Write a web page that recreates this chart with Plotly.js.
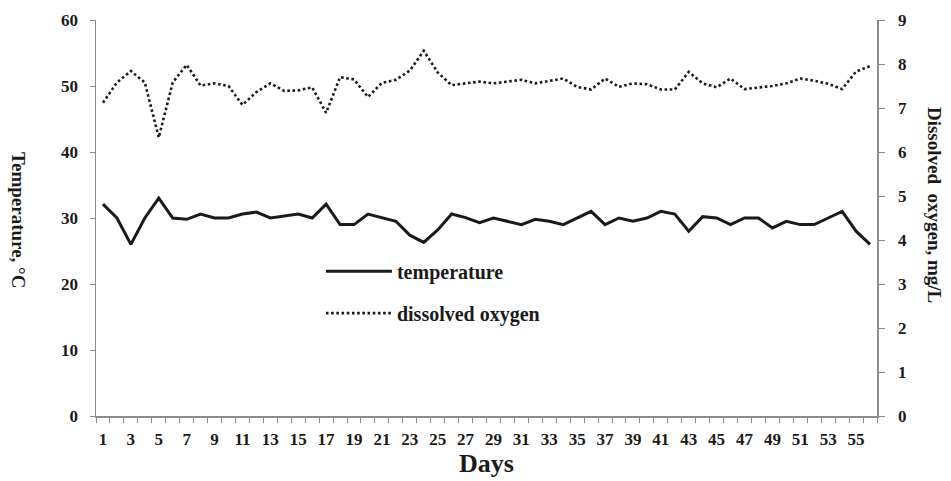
<!DOCTYPE html>
<html>
<head>
<meta charset="utf-8">
<script src="https://cdn.plot.ly/plotly-3.0.1.min.js"></script>
<style>html,body{margin:0;padding:0;background:#fff;}#chart{width:951px;height:481px;}</style>
</head>
<body>
<div id="chart"></div>
<script>
const days = Array.from({length: 56}, (_, i) => i + 1);
const temperature = [32.1, 30.0, 26.0, 30.0, 33.0, 30.0, 29.8, 30.6, 30.0, 30.0,
  30.6, 30.9, 30.0, 30.35, 30.6, 30.0, 32.1, 29.0, 29.0, 30.6,
  30.05, 29.5, 27.4, 26.3, 28.2, 30.6, 30.05, 29.3, 30.0, 29.5,
  29.0, 29.8, 29.5, 29.0, 30.05, 31.0, 29.0, 30.0, 29.5, 30.0,
  31.0, 30.6, 28.0, 30.2, 30.0, 29.0, 30.0, 30.0, 28.5, 29.5,
  29.0, 29.0, 30.0, 31.0, 28.0, 26.0];
const dissolvedOxygen = [7.12, 7.58, 7.84, 7.58, 6.33, 7.58, 7.98, 7.51, 7.56, 7.5,
  7.07, 7.36, 7.56, 7.39, 7.4, 7.47, 6.89, 7.7, 7.65, 7.25,
  7.57, 7.64, 7.85, 8.3, 7.81, 7.52, 7.56, 7.6, 7.56, 7.6,
  7.64, 7.56, 7.62, 7.67, 7.48, 7.42, 7.67, 7.48, 7.56, 7.54,
  7.42, 7.42, 7.82, 7.56, 7.47, 7.67, 7.43, 7.47, 7.5, 7.56,
  7.67, 7.62, 7.55, 7.43, 7.83, 7.95];
const xTickVals = days.filter(d => d % 2 === 1);
const xTickText = xTickVals.map(String);

const font = {family: 'Liberation Serif, Times New Roman, serif', color: '#1a1a1a'};
const axisGray = '#8c8c8c';

const traces = [
  {x: days, y: temperature, name: 'temperature', type: 'scatter', mode: 'lines',
   line: {color: '#1a1a1a', width: 3}, legendgroup: 'a', yaxis: 'y'},
  {x: days, y: dissolvedOxygen, name: 'dissolved oxygen', type: 'scatter', mode: 'lines',
   line: {color: '#1a1a1a', width: 2.6, dash: '2.6px,2.6px'}, legendgroup: 'b', yaxis: 'y2'}
];

const layout = {
  width: 951, height: 481,
  margin: {l: 96, r: 74, t: 20, b: 65},
  paper_bgcolor: '#fff', plot_bgcolor: '#fff',
  font: Object.assign({size: 14}, font),
  showlegend: true,
  legend: {x: 0.288, y: 0.415, xanchor: 'left', yanchor: 'top', traceorder: 'grouped',
    tracegroupgap: 13, bgcolor: 'rgba(0,0,0,0)', itemwidth: 66,
    font: Object.assign({size: 20, weight: 'bold'}, font)},
  xaxis: {range: [0.5, 56.5], showgrid: false, zeroline: false, showline: true,
    linecolor: axisGray, linewidth: 1.5, ticks: '', tickmode: 'array',
    tickvals: xTickVals, ticktext: xTickText, ticklabelstandoff: 7,
    tickfont: Object.assign({size: 17, weight: 'bold'}, font),
    minor: {ticks: 'outside', tick0: 0.5, dtick: 1, ticklen: 5, tickcolor: axisGray, tickwidth: 1, showgrid: false},
    title: {text: 'Days', font: Object.assign({size: 26, weight: 'bold'}, font), standoff: 6}},
  yaxis: {range: [0, 60], dtick: 10, showgrid: false, zeroline: false, showline: true,
    linecolor: axisGray, linewidth: 1.5, ticks: 'outside', ticklen: 5, tickcolor: axisGray,
    ticklabelstandoff: 8,
    tickfont: Object.assign({size: 17, weight: 'bold'}, font)},
  yaxis2: {range: [0, 9], dtick: 1, overlaying: 'y', side: 'right', showgrid: false, zeroline: false,
    showline: true, linecolor: axisGray, linewidth: 1.5, ticks: 'outside', ticklen: 6, tickcolor: axisGray,
    ticklabelstandoff: 10,
    tickfont: Object.assign({size: 17, weight: 'bold'}, font)},
  annotations: [
    {text: 'Temperature, °C', xref: 'paper', yref: 'paper', x: -0.1, y: 0.495, textangle: 90,
     xanchor: 'center', yanchor: 'middle',
     showarrow: false, font: Object.assign({size: 19, weight: 'bold'}, font)},
    {text: 'Dissolved\u00a0 oxygen, mg/L', xref: 'paper', yref: 'paper', x: 1.073, y: 0.533, textangle: 90,
     xanchor: 'center', yanchor: 'middle',
     showarrow: false, font: Object.assign({size: 19, weight: 'bold'}, font)}
  ]
};

Plotly.newPlot('chart', traces, layout, {displayModeBar: false, staticPlot: true});
</script>
</body>
</html>
